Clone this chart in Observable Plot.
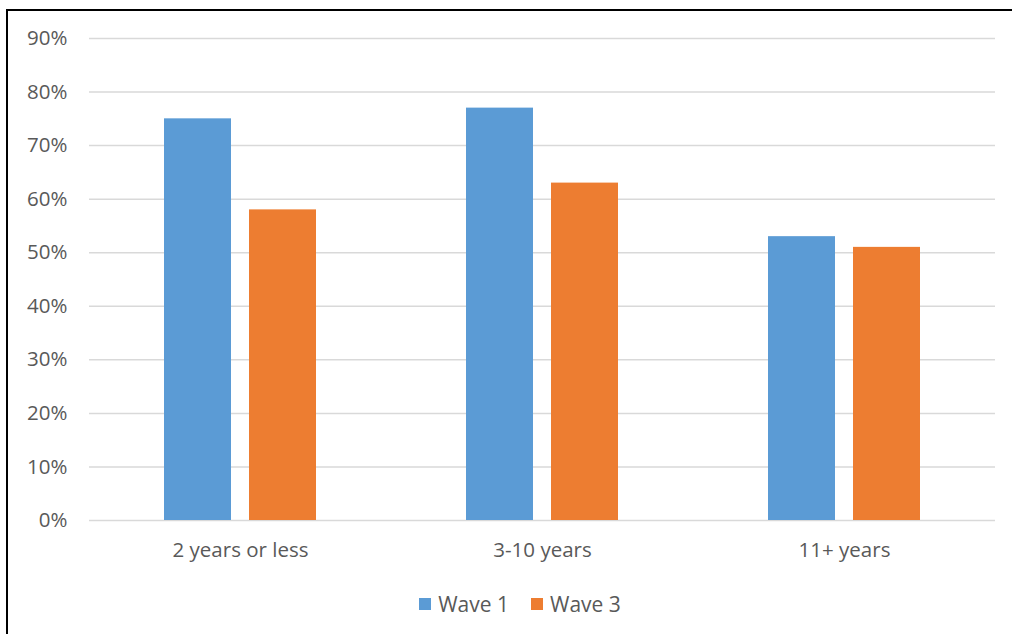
<!DOCTYPE html>
<html>
<head>
<meta charset="utf-8">
<script src="https://cdn.jsdelivr.net/npm/d3@7"></script>
<script src="https://cdn.jsdelivr.net/npm/@observablehq/plot@0.6"></script>
<style>
  html, body { margin: 0; padding: 0; background: #fff; }
  #wrap { position: relative; width: 1012px; height: 634px; overflow: hidden; font-family: "Open Sans", Lato, sans-serif; }
  #frame { position: absolute; left: 6px; top: 9px; width: 1100px; height: 700px; border-left: 2px solid #000; border-top: 2px solid #000; box-sizing: border-box; pointer-events: none; }
  #chart { position: absolute; left: 0; top: 0; }
  #legend { position: absolute; left: 0; top: 590px; width: 1012px; padding-left: 28px; box-sizing: border-box; display: flex; justify-content: center; gap: 22px; font-size: 21px; color: #595959; }
  #legend .item { display: flex; align-items: center; gap: 7px; }
  #legend .sw { width: 12px; height: 12px; display: inline-block; }
</style>
</head>
<body>
<div id="wrap">
  <div id="chart"></div>
  <div id="legend"></div>
  <div id="frame"></div>
</div>
<script>
// Share of respondents by tenure, two survey waves
const categories = ["2 years or less", "3-10 years", "11+ years"];
const series = ["Wave 1", "Wave 3"];
const wave1 = [0.75, 0.77, 0.53];
const wave3 = [0.58, 0.63, 0.51];
const yTicks = [0, 0.1, 0.2, 0.3, 0.4, 0.5, 0.6, 0.7, 0.8, 0.9];
const colors = ["#5B9BD5", "#ED7D31"];

const data = categories.flatMap((c, i) => [
  {category: c, series: series[0], value: wave1[i]},
  {category: c, series: series[1], value: wave3[i]}
]);

const plot = Plot.plot({
  width: 1012,
  height: 575,
  marginLeft: 88,
  marginRight: 16,
  marginTop: 38,
  marginBottom: 55,
  style: {fontFamily: "'Open Sans', Lato, sans-serif", fontSize: "20.5px", color: "#595959", background: "transparent"},
  fx: {domain: categories, padding: 0, label: null},
  x: {domain: series, paddingInner: 0.2093, paddingOuter: 0.8646, axis: null},
  y: {domain: [0, 0.9], label: null},
  color: {domain: series, range: colors},
  marks: [
    Plot.gridY(yTicks, {stroke: "#D9D9D9", strokeOpacity: 1, strokeWidth: 1.5}),
    Plot.barY(data, {fx: "category", x: "series", y: "value", fill: "series"}),
    Plot.axisY(yTicks, {tickSize: 0, tickPadding: 22, tickFormat: d3.format(".0%"), label: null, fontSize: 20.5, fill: "#595959"}),
    Plot.axisFx({anchor: "bottom", tickSize: 0, tickPadding: 22, label: null, fontSize: 20.5, fill: "#595959"})
  ]
});
document.getElementById("chart").appendChild(plot);

// Legend swatches taken from the plot's color scale
const color = plot.scale("color");
const legend = d3.select("#legend");
color.domain.forEach((d, i) => {
  const item = legend.append("div").attr("class", "item");
  item.append("span").attr("class", "sw").style("background", color.range[i]);
  item.append("span").text(d);
});
</script>
</body>
</html>
